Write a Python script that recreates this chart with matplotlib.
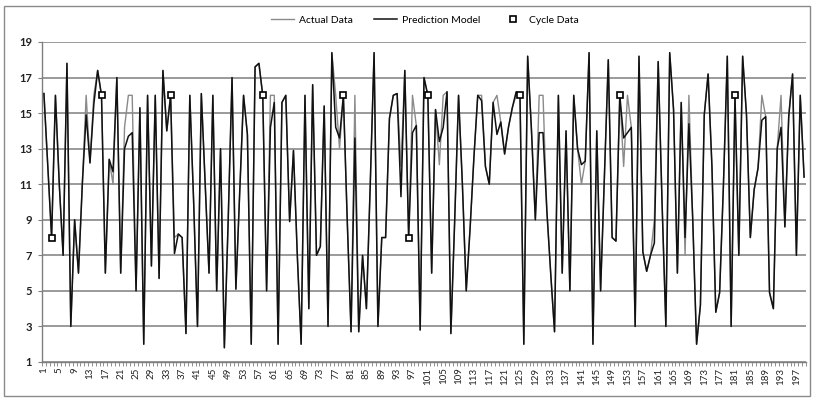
import numpy as np
import matplotlib
matplotlib.use("Agg")
import matplotlib.pyplot as plt
from matplotlib.patches import Rectangle

plt.rcParams['font.family'] = ['Lato', 'DejaVu Sans']

actual = [16.1, 12, 8, 16, 11, 7, 17.8, 3, 9, 6,
          11, 16, 12.2, 16, 17.4, 16, 6, 12.4, 11, 17,
          6, 14.2, 16, 16, 5, 15.3, 2, 16, 6.4, 16,
          5.7, 17.4, 14, 16, 8, 8.2, 8, 2.6, 16, 10,
          3, 16.1, 11, 6, 16, 5, 13, 1.8, 9, 17,
          5.1, 10.5, 16, 13.8, 2, 17.6, 17.8, 16, 5, 16,
          16, 2, 15.6, 16, 8.9, 12.9, 7, 2, 16, 4,
          16.6, 7, 7.5, 15.4, 3, 18.4, 16, 13, 16, 9,
          2.7, 16, 2.7, 7, 4, 11, 18.4, 3, 8, 8,
          14.7, 16, 16.1, 12, 17.4, 8, 16, 14.3, 2.8, 17,
          16, 6, 15.2, 12.1, 16, 16.2, 2.6, 9, 16, 11,
          5, 8.5, 12.5, 16, 16, 12, 11, 15.6, 16, 14.5,
          12.7, 14.2, 15.3, 16, 16, 2, 18.2, 14, 9, 16,
          16, 9.5, 6, 2.7, 16, 6, 14, 5, 16, 13,
          11, 12.3, 18.4, 2, 14, 5, 11.5, 18, 8, 7.8,
          16, 12, 16, 14.2, 3, 18.2, 7.2, 6.1, 7, 9,
          17.9, 10, 3, 18.4, 15.2, 6, 15.6, 7, 16, 9,
          2, 4.2, 14.9, 17.2, 12, 3.8, 4.9, 11, 18.2, 3,
          16, 7, 18.2, 14.9, 8, 10.7, 11.9, 16, 14.8, 4.9,
          4, 13, 16, 8.6, 14.8, 17.2, 7, 16, 11.4]

prediction = [16.1, 12, 8, 16, 11, 7, 17.8, 3, 9, 6,
              11, 14.9, 12.2, 15.5, 17.4, 16, 6, 12.4, 11.7, 17,
              6, 13, 13.7, 13.9, 5, 15.3, 2, 16, 6.4, 16,
              5.7, 17.4, 14, 16, 7.1, 8.2, 8, 2.6, 16, 10,
              3, 16.1, 11, 6, 16, 5, 13, 1.8, 9, 17,
              5.1, 10.5, 16, 13.8, 2, 17.6, 17.8, 16, 5, 14.2,
              15.6, 2, 15.6, 16, 8.9, 12.9, 7, 2, 16, 4,
              16.6, 7, 7.5, 15.4, 3, 18.4, 14.2, 13.6, 16, 9,
              2.7, 13.6, 2.7, 7, 4, 11, 18.4, 3, 8, 8,
              14.7, 16, 16.1, 10.3, 17.4, 8, 13.9, 14.3, 2.8, 17,
              16, 6, 15.2, 13.4, 14.2, 16.2, 2.6, 9, 16, 11,
              5, 8.5, 12.5, 16, 15.7, 12, 11, 15.6, 13.8, 14.5,
              12.7, 14.2, 15.3, 16.2, 16, 2, 18.2, 14, 9, 13.9,
              13.9, 9.5, 6, 2.7, 16, 6, 14, 5, 16, 13,
              12.1, 12.3, 18.4, 2, 14, 5, 11.5, 18, 8, 7.8,
              16, 13.6, 13.9, 14.2, 3, 18.2, 7.2, 6.1, 7, 7.7,
              17.9, 10, 3, 18.4, 15.2, 6, 15.6, 8, 14.4, 9,
              2, 4.2, 14.9, 17.2, 12, 3.8, 4.9, 11, 18.2, 3,
              16, 7, 18.2, 14.9, 8, 10.7, 11.9, 14.6, 14.8, 4.9,
              4, 13, 14.2, 8.6, 14.8, 17.2, 7, 16, 11.4]

cycle_x = [3, 16, 34, 58, 79, 96, 101, 125, 151, 181]
cycle_y = [8, 16, 16, 16, 16, 8, 16, 16, 16, 16]

y_ticks = list(range(1, 20, 2))
x_label_step = 4

cats = np.arange(1, len(actual) + 1)

fig = plt.figure(figsize=(8.13, 4.0), dpi=100)
ax = fig.add_axes([42 / 813, 1 - 362 / 400, (806 - 42) / 813, (362 - 42) / 400])

ax.plot(cats, actual, color='#8a8a8a', lw=1.0, label='Actual Data', zorder=3)
ax.plot(cats, prediction, color='#111111', lw=1.1, label='Prediction Model', zorder=4)
ax.plot(cycle_x, cycle_y, ls='none', marker='s', ms=5, mfc='white', mec='black',
        mew=1.2, label='Cycle Data', zorder=5)

ax.set_xlim(0.5, len(actual) + 0.5)
ax.set_ylim(1, 19)
ax.set_yticks(y_ticks)
ax.set_yticklabels([str(v) for v in y_ticks], fontsize=8, fontweight='bold', color='#222222')
ax.yaxis.grid(True, color='#7f7f7f', lw=1.1)
ax.set_axisbelow(True)

major = cats[::x_label_step]
ax.set_xticks(major)
ax.set_xticklabels([str(v) for v in major], rotation=90, fontsize=7, color='#222222')
ax.set_xticks(np.arange(0.5, len(actual) + 1, 1), minor=True)
ax.tick_params(axis='x', which='major', length=0, pad=4)
ax.tick_params(axis='x', which='minor', length=3, color='#7f7f7f', direction='out')
ax.tick_params(axis='y', length=3, color='#7f7f7f', pad=4)

for s in ['top', 'right']:
    ax.spines[s].set_visible(False)
for s in ['left', 'bottom']:
    ax.spines[s].set_color('#7f7f7f')
    ax.spines[s].set_linewidth(1.0)

fig.legend(loc='center', bbox_to_anchor=(425 / 813, 1 - 20 / 400), ncol=3, frameon=False,
           fontsize=7.5, handlelength=2.2, columnspacing=2.0, handletextpad=0.5,
           markerscale=0.9)

fig.patches.append(Rectangle((4 / 813, 4 / 400), 806 / 813, 390 / 400, transform=fig.transFigure,
                             fill=False, edgecolor='#8a8a8a', lw=1.0))

fig.savefig('out.png', dpi=100)
